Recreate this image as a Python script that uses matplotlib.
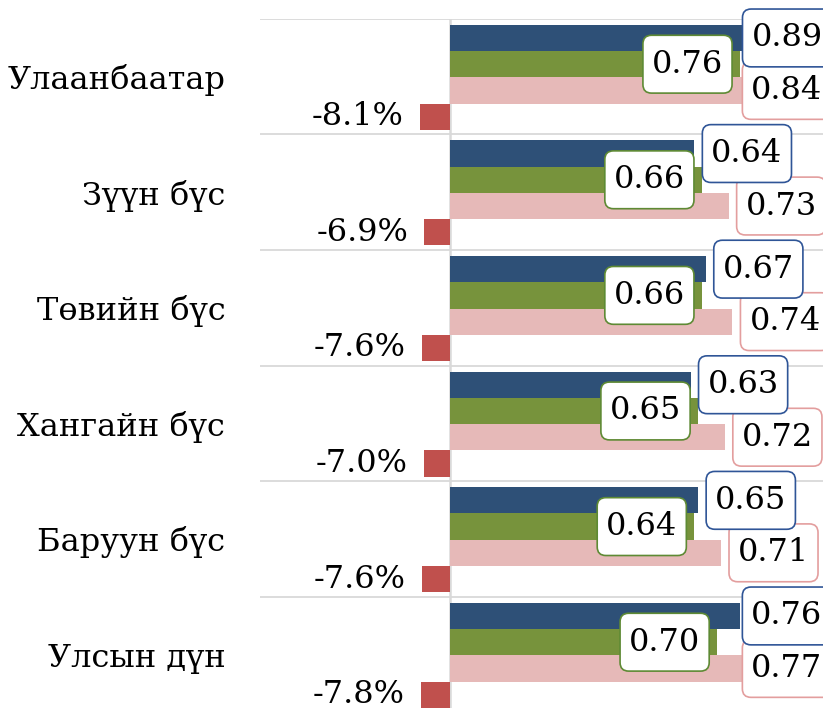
import matplotlib
matplotlib.use("Agg")
import matplotlib.pyplot as plt
import matplotlib.patches as mpatches
import matplotlib.transforms as mtransforms
import numpy as np

categories = ['Улаанбаатар', 'Зүүн бүс', 'Төвийн бүс', 'Хангайн бүс', 'Баруун бүс', 'Улсын дүн']
series_blue = [0.89, 0.64, 0.67, 0.63, 0.65, 0.76]
series_green = [0.76, 0.66, 0.66, 0.65, 0.64, 0.70]
series_pink = [0.84, 0.73, 0.74, 0.72, 0.71, 0.77]
change_pct = [-8.1, -6.9, -7.6, -7.0, -7.6, -7.8]

C_BLUE = '#2E5077'
C_GREEN = '#77933C'
C_PINK = '#E6B9B8'
C_RED = '#C0504D'
E_BLUE = '#2F5597'
E_GREEN = '#5E8A34'
E_PINK = '#E39E9E'

plt.rcParams['font.family'] = ['DejaVu Serif']
FS = 23


class RoundXY:
    """Rounded box with separate horizontal / vertical padding."""
    def __init__(self, padx, pady, r):
        self.padx, self.pady, self.r = padx, pady, r

    def __call__(self, x0, y0, width, height, mutation_size):
        px = self.padx * mutation_size
        py = self.pady * mutation_size
        return mpatches.BoxStyle.Round(pad=0, rounding_size=self.r)(
            x0 - px, y0 - py, width + 2 * px, height + 2 * py, mutation_size)


fig = plt.figure(figsize=(8.23, 7.08), dpi=100)
W, H = 823, 708
ax = fig.add_axes([260 / W, 1 - 712.3 / H, 571.5 / W, 693.6 / H])
ax.set_xlim(-0.5, 1.0)
ax.set_ylim(len(categories) - 0.5, -0.5)

y = np.arange(len(categories))
h = 0.227
offs = [-1.5 * h, -0.5 * h, 0.5 * h, 1.5 * h]
ax.barh(y + offs[0] + 0.007, series_blue, height=h, color=C_BLUE, zorder=2)
ax.barh(y + offs[1] + 0.007, series_green, height=h, color=C_GREEN, zorder=2)
ax.barh(y + offs[2] + 0.007, series_pink, height=h, color=C_PINK, zorder=2)
ax.barh(y + offs[3] + 0.007, np.array(change_pct) / 100.0, height=h, color=C_RED, zorder=2)

for b in np.arange(len(categories) + 1) - 0.5:
    ax.axhline(b, color='#D9D9D9', lw=1.3, zorder=1)
ax.axvline(0, color='#D9D9D9', lw=1.8, zorder=1)

for s in ax.spines.values():
    s.set_visible(False)
ax.set_xticks([])
ax.set_yticks(y)
ax.set_yticklabels(categories, fontsize=FS)
ax.tick_params(axis='y', length=0, pad=25)

PADX, PADY = 0.28, 0.42


def box(ec):
    return dict(boxstyle=RoundXY(PADX, PADY, 0.27), fc='white', ec=ec, lw=1.2)


gap = 8  # px
pad_px = PADX * FS * 100 / 72

labels_out = []
# green: inside end
for i, v in enumerate(series_green):
    tr = mtransforms.offset_copy(ax.transData, fig=fig, x=-(gap + pad_px), y=0, units='dots')
    ax.text(v, y[i] + offs[1] + 0.007, f'{v:.2f}', transform=tr, ha='right', va='center',
            fontsize=FS, bbox=box(E_GREEN), zorder=5)
# pink: outside end
for i, v in enumerate(series_pink):
    tr = mtransforms.offset_copy(ax.transData, fig=fig, x=(gap + pad_px), y=0, units='dots')
    t = ax.text(v, y[i] + offs[2] + 0.007, f'{v:.2f}', transform=tr, ha='left', va='center',
                fontsize=FS, bbox=box(E_PINK), zorder=6)
    labels_out.append(t)
# blue: outside end
for i, v in enumerate(series_blue):
    tr = mtransforms.offset_copy(ax.transData, fig=fig, x=(gap + pad_px), y=0, units='dots')
    t = ax.text(v, y[i] + offs[0] + 0.007, f'{v:.2f}', transform=tr, ha='left', va='center',
                fontsize=FS, bbox=box(E_BLUE), zorder=7)
    labels_out.append(t)
# red: labels left of bar
for i, v in enumerate(change_pct):
    tr = mtransforms.offset_copy(ax.transData, fig=fig, x=-16, y=0, units='dots')
    ax.text(v / 100.0, y[i] + offs[3] + 0.007, f'{v:.1f}%', transform=tr, ha='right', va='center',
            fontsize=FS, zorder=5)

# keep outside-end labels within the plot area
fig.canvas.draw()
r = fig.canvas.get_renderer()
ax_right = ax.get_window_extent(r).x1
ppu = ax.transData.transform((1, 0))[0] - ax.transData.transform((0, 0))[0]
for t in labels_out:
    bb = t.get_bbox_patch().get_window_extent(r)
    over = bb.x1 - ax_right
    if over > 0:
        t.set_x(t.get_position()[0] - over / ppu)

fig.savefig('out.png', dpi=100)
